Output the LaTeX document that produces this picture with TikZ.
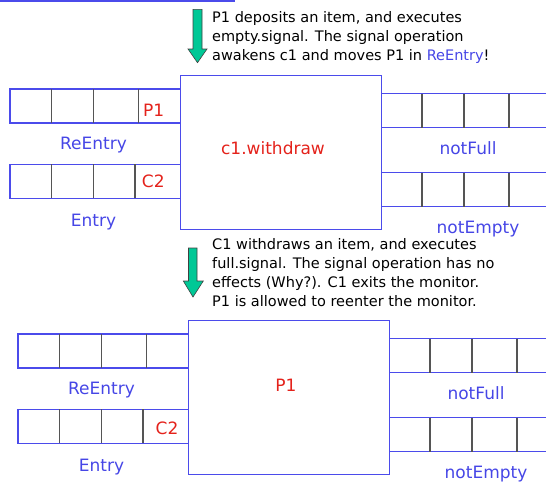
\documentclass[tikz,border=0pt]{standalone}
\usepackage{fontspec}
\setmainfont{DejaVu Sans}

\definecolor{qblue}{HTML}{4B4BEB}
\definecolor{lblue}{HTML}{4646E6}
\definecolor{pred}{HTML}{E4221B}
\definecolor{agreen}{HTML}{00C896}
\definecolor{divgray}{HTML}{555555}

% monitor box with its four queues, #1 = name prefix
\newcommand{\monitorpanel}[1]{%
  \node[monbox, minimum width=201pt, minimum height=154pt, anchor=north west] (#1box) at (180,74.5) {};
  \foreach \y/\last in {89/138.7, 164.3/135} {
    \draw[qline] (180,\y) -- (10,\y) -- (10,\y+34) -- (180,\y+34);
    \foreach \d in {51.7,93.3,\last} \draw[divline] (\d,\y) -- (\d,\y+34);
  }
  \foreach \y in {93.5, 172.5} {
    \draw[qline] (381,\y) -- (560,\y) (381,\y+34) -- (560,\y+34);
    \foreach \d in {422,464,509} \draw[divline] (\d,\y) -- (\d,\y+34);
  }
  \node[qlabel] (#1reentry) at (93.5,149.5) {ReEntry};
  \node[qlabel] (#1entry) at (93.5,226.5) {Entry};
  \node[qlabel] (#1notfull) at (468,154.5) {notFull};
  \node[qlabel] (#1notempty) at (478,233.5) {notEmpty};
}

\begin{document}
\begin{tikzpicture}[x=1pt, y=-1pt,
    qline/.style={draw=qblue, line width=1.1pt},
    divline/.style={draw=divgray, line width=1.1pt},
    monbox/.style={draw=qblue, line width=1.2pt, fill=none},
    qlabel/.style={anchor=base, inner sep=0pt, text=lblue, font=\fontsize{17}{20}\selectfont},
    plabel/.style={anchor=base, inner sep=0pt, text=pred, font=\fontsize{17}{20}\selectfont},
    note/.style={anchor=north west, inner sep=0pt, align=left, font=\fontsize{14.5}{19}\selectfont},
    bigarrow/.style={fill=agreen, draw=black!75, line width=0.6pt}
  ]
  \useasboundingbox (0,0) rectangle (546,485);
  \clip (0,0) rectangle (546,485);

  % cut-off title bar
  \fill[qblue] (0,0) rectangle (235,2.3);

  % first step
  \draw[bigarrow] (193,9.3) -- (202,9.3) -- (202,49) -- (207,49) -- (197.5,62.7)
    -- (188,49) -- (193,49) -- cycle;
  \node[note] (note1) at (212,11.5) {P1 deposits an item, and executes\\
    empty.signal. The signal operation\\
    awakens c1 and moves P1 in \textcolor{lblue}{ReEntry}!};

  \monitorpanel{a}
  \node[plabel] (ap1) at (153.7,116.5) {P1};
  \node[plabel] (ac2) at (153.3,187.5) {C2};
  \node[plabel] (aproc) at (273,154.5) {c1.withdraw};

  % second step
  \draw[bigarrow] (188.5,248) -- (197,248) -- (197,281) -- (203.3,281) -- (193,297)
    -- (183.3,281) -- (188.5,281) -- cycle;
  \node[note] (note2) at (212,238.5) {C1 withdraws an item, and executes\\
    full.signal. The signal operation has no\\
    effects (Why?). C1 exits the monitor.\\
    P1 is allowed to reenter the monitor.};

  \begin{scope}[shift={(8,245)}]
    \monitorpanel{b}
    \node[plabel] (bc2) at (159,189.8) {C2};
    \node[plabel] (bproc) at (278,146.5) {P1};
  \end{scope}
\end{tikzpicture}
\end{document}
